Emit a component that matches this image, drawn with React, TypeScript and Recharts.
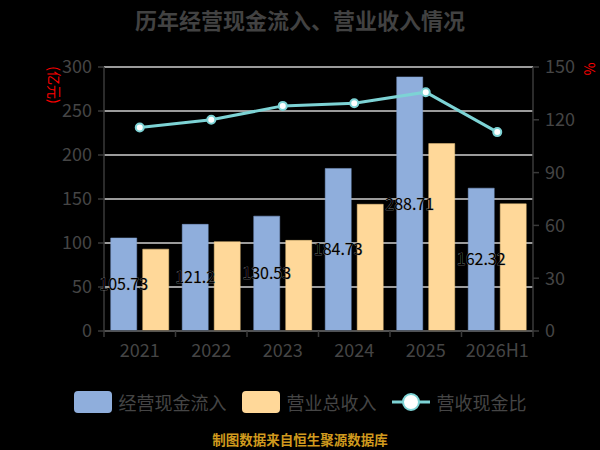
import React from "react"
import {
  Bar,
  CartesianGrid,
  ComposedChart,
  LabelList,
  Line,
  XAxis,
  YAxis,
} from "recharts"

const categories = ["2021", "2022", "2023", "2024", "2025", "2026H1"]
const cashInflow = [105.73, 121.2, 130.53, 184.73, 288.71, 162.32]
const revenue = [93.0, 101.5, 103.0, 144.0, 213.0, 144.5]
const ratio = [115.6, 120.0, 127.9, 129.4, 135.7, 113.0]

const leftTicks = [0, 50, 100, 150, 200, 250, 300]
const rightTicks = [0, 30, 60, 90, 120, 150]

const data = categories.map((name, i) => ({
  name,
  cash: cashInflow[i],
  revenue: revenue[i],
  ratio: ratio[i],
}))

const FONT = '"Noto Sans CJK SC", "Noto Sans", sans-serif'
const BLUE = "#8faedc"
const YELLOW = "#ffd899"
const CYAN = "#7dd3d5"
const AXIS = "#3a3a3a"
const TEXT = "#454545"

// ticks sit on the band edges, labels in the middle
function XTick(props: any) {
  const { x, y, payload, index, visibleTicksCount } = props
  const half = payload?.offset ?? 35.75
  const isLast = index === visibleTicksCount - 1
  return (
    <g>
      <line x1={x - half} x2={x - half} y1={y} y2={y + 6} stroke={AXIS} strokeWidth={1.5} />
      {isLast && <line x1={x + half} x2={x + half} y1={y} y2={y + 6} stroke={AXIS} strokeWidth={1.5} />}
      <text x={x} y={y + 26} textAnchor="middle" fontSize={18} fill={TEXT}>
        {payload.value}
      </text>
    </g>
  )
}

function LegendItem({ kind, color, label }: { kind: "bar" | "line"; color: string; label: string }) {
  return (
    <span style={{ display: "flex", alignItems: "center", gap: 7 }}>
      {kind === "bar" ? (
        <span style={{ width: 38, height: 22, borderRadius: 4, background: color, display: "inline-block" }} />
      ) : (
        <svg width={38} height={22}>
          <line x1={0} x2={38} y1={11} y2={11} stroke={color} strokeWidth={3} />
          <circle cx={19} cy={11} r={8} fill="#fff" stroke={color} strokeWidth={2} />
        </svg>
      )}
      <span style={{ fontSize: 18, color: TEXT }}>{label}</span>
    </span>
  )
}

export default function App() {
  return (
    <div
      style={{
        position: "absolute",
        left: 0,
        top: 0,
        width: 600,
        height: 450,
        background: "#000",
        fontFamily: FONT,
        overflow: "hidden",
      }}
    >
      <div
        style={{
          position: "absolute",
          top: 3,
          width: 600,
          textAlign: "center",
          fontSize: 22,
          fontWeight: "bold",
          color: "#424242",
        }}
      >
        历年经营现金流入、营业收入情况
      </div>

      <div
        style={{
          position: "absolute",
          left: 55,
          top: 85,
          transform: "translate(-50%, -50%) rotate(90deg)",
          fontSize: 14,
          color: "#ff0000",
          whiteSpace: "nowrap",
        }}
      >
        (亿元)
      </div>
      <div
        style={{
          position: "absolute",
          left: 590,
          top: 69,
          transform: "translate(-50%, -50%) rotate(90deg)",
          fontSize: 14,
          color: "#ff0000",
        }}
      >
        %
      </div>

      <div style={{ position: "absolute", left: 0, top: 0 }}>
        <ComposedChart
          width={600}
          height={450}
          data={data}
          margin={{ top: 67, right: 0, bottom: 89, left: 0 }}
          barCategoryGap="9.4%"
          barGap={6}
        >
          <CartesianGrid yAxisId="left" vertical={false} stroke="#cfcfcf" strokeWidth={1.5} />
          <XAxis
            dataKey="name"
            height={30}
            axisLine={{ stroke: AXIS, strokeWidth: 1.5 }}
            tickLine={false}
            tickSize={0}
            tickMargin={0}
            interval={0}
            tick={<XTick />}
          />
          <YAxis
            yAxisId="left"
            width={104}
            domain={[0, 300]}
            ticks={leftTicks}
            axisLine={{ stroke: AXIS, strokeWidth: 1.5 }}
            tickLine={{ stroke: AXIS, strokeWidth: 1.5 }}
            tickSize={6}
            tickMargin={6}
            tick={{ fontSize: 18, fill: TEXT }}
          />
          <YAxis
            yAxisId="right"
            orientation="right"
            width={67}
            domain={[0, 150]}
            ticks={rightTicks}
            axisLine={{ stroke: AXIS, strokeWidth: 1.5 }}
            tickLine={{ stroke: AXIS, strokeWidth: 1.5 }}
            tickSize={6}
            tickMargin={6}
            tick={{ fontSize: 18, fill: TEXT }}
          />
          <Bar yAxisId="left" dataKey="cash" fill={BLUE} stroke="#7f9fd0" strokeWidth={0.5} isAnimationActive={false}>
            <LabelList
              dataKey="cash"
              position="center"
              fill="#000"
              stroke="#9a9a9a"
              strokeWidth={0.5}
              fontSize={16}
              style={{ paintOrder: "stroke" }}
            />
          </Bar>
          <Bar yAxisId="left" dataKey="revenue" fill={YELLOW} stroke="#f0c880" strokeWidth={0.5} isAnimationActive={false} />
          <Line
            yAxisId="right"
            type="linear"
            dataKey="ratio"
            stroke={CYAN}
            strokeWidth={3}
            dot={{ r: 4, fill: "#fff", stroke: CYAN, strokeWidth: 2 }}
            isAnimationActive={false}
          />
        </ComposedChart>
      </div>

      <div
        style={{
          position: "absolute",
          top: 389,
          width: 600,
          display: "flex",
          justifyContent: "center",
          gap: 15,
        }}
      >
        <LegendItem kind="bar" color={BLUE} label="经营现金流入" />
        <LegendItem kind="bar" color={YELLOW} label="营业总收入" />
        <LegendItem kind="line" color={CYAN} label="营收现金比" />
      </div>

      <div
        style={{
          position: "absolute",
          top: 429,
          width: 600,
          textAlign: "center",
          fontSize: 13.5,
          fontWeight: "bold",
          color: "#d09a1e",
        }}
      >
        制图数据来自恒生聚源数据库
      </div>
    </div>
  )
}
